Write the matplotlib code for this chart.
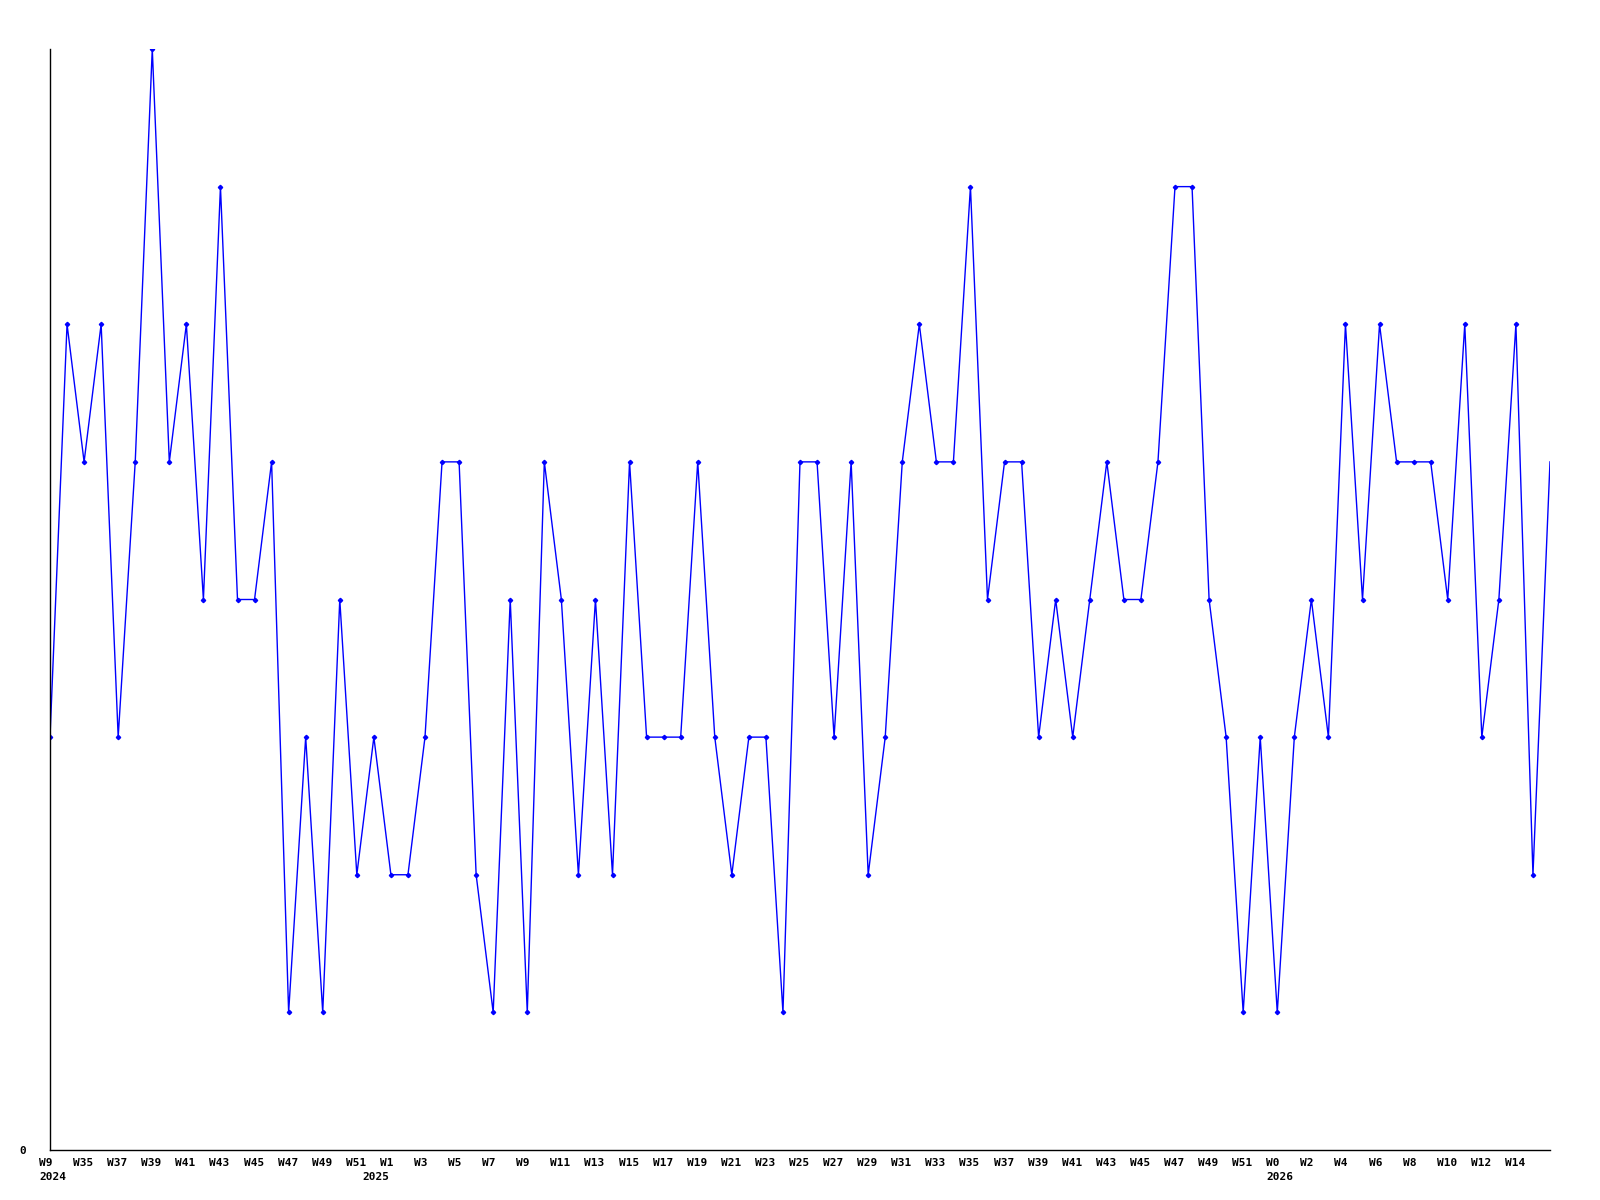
import matplotlib
matplotlib.use("Agg")
import matplotlib.pyplot as plt
import matplotlib.transforms as mtransforms
import numpy as np

## data ##

# weekly counts, one per week starting at 2024 W33
counts = [3, 6, 5, 6, 3, 5, 8, 5, 6, 4,
          7, 4, 4, 5, 1, 3, 1, 4, 2, 3,
          2, 2, 3, 5, 5, 2, 1, 4, 1, 5,
          4, 2, 4, 2, 5, 3, 3, 3, 5, 3,
          2, 3, 3, 1, 5, 5, 3, 5, 2, 3,
          5, 6, 5, 5, 7, 4, 5, 5, 3, 4,
          3, 4, 5, 4, 4, 5, 7, 7, 4, 3,
          1, 3, 1, 3, 4, 3, 6, 4, 6, 5,
          5, 5, 4, 6, 3, 4, 6, 2, 5]

week_labels = ['W9', 'W35', 'W37', 'W39', 'W41', 'W43', 'W45', 'W47', 'W49', 'W51',
               'W1', 'W3', 'W5', 'W7', 'W9', 'W11', 'W13', 'W15', 'W17', 'W19',
               'W21', 'W23', 'W25', 'W27', 'W29', 'W31', 'W33', 'W35', 'W37', 'W39',
               'W41', 'W43', 'W45', 'W47', 'W49', 'W51', 'W0', 'W2', 'W4', 'W6',
               'W8', 'W10', 'W12', 'W14']
year_labels = ['2024', '2025', '2026']
year_pos = [0, 19, 72]

## plot ##

x = np.arange(len(counts))
blue = '#0000ff'
font = {'family': 'DejaVu Sans Mono', 'weight': 'bold', 'size': 8}

fig = plt.figure(figsize=(16, 12), dpi=100)
ax = fig.add_axes([50 / 1600, 50 / 1200, 1500 / 1600, 1101 / 1200])

ax.plot(x, counts, color=blue, linewidth=1.0, marker='D', markersize=2.2,
        markevery=list(range(len(counts) - 1)))

ax.set_xlim(0, len(counts) - 1)
ax.set_ylim(0, max(counts))

for side in ('top', 'right'):
    ax.spines[side].set_visible(False)
for side in ('left', 'bottom'):
    ax.spines[side].set_linewidth(1.0)
    ax.spines[side].set_color('black')

ax.set_yticks([0])
ax.set_yticklabels(['0'], fontdict=font)
ax.tick_params(axis='y', length=0, pad=17)

ax.xaxis.remove_overlapping_locs = False
ax.set_xticks(x[::2][:len(week_labels)])
ax.set_xticklabels(week_labels, fontdict=font, ha='left')
ax.set_xticks(year_pos, minor=True)
ax.set_xticklabels(year_labels, minor=True, fontdict=font, ha='left')
ax.tick_params(axis='x', which='major', length=0, pad=6)
ax.tick_params(axis='x', which='minor', length=0, pad=16)

shift = mtransforms.ScaledTranslation(-11 / 100, 0, fig.dpi_scale_trans)
for lbl in ax.get_xticklabels(which='both'):
    lbl.set_transform(lbl.get_transform() + shift)

fig.savefig('out.png', dpi=100)
